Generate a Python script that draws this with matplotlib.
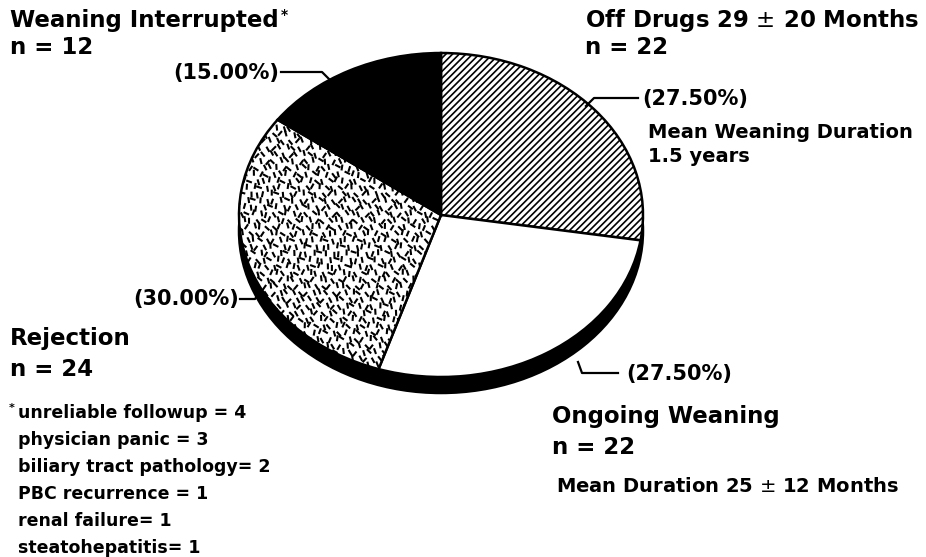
import numpy as np
import matplotlib
matplotlib.use("Agg")
import matplotlib.pyplot as plt
from matplotlib.patches import Ellipse
from matplotlib.collections import LineCollection

# data
groups = ["Off Drugs", "Ongoing Weaning", "Rejection", "Weaning Interrupted"]
counts = [22, 22, 24, 12]
pct_labels = ["(27.50%)", "(27.50%)", "(30.00%)", "(15.00%)"]
footnote = ["unreliable followup = 4", "physician panic = 3",
            "biliary tract pathology= 2", "PBC recurrence = 1",
            "renal failure= 1", "steatohepatitis= 1"]

plt.rcParams["hatch.linewidth"] = 1.2

W, H = 926, 557
fig = plt.figure(figsize=(W / 100, H / 100), dpi=100)
ax = fig.add_axes([0, 0, 1, 1])

# pie geometry in pixels (top-left origin)
cx, cy = 441, 215
rx, ry = 202, 162
depth = 16
k = rx / ry  # stretch so a circle of radius rx looks like an ellipse


def P(x, y):
    # pixel -> data
    return x, (H - y) * k


center = P(cx, cy)
# side of the disc
side = Ellipse(P(cx, cy + depth), 2 * rx, 2 * rx, facecolor="black",
               edgecolor="black", lw=1.8, zorder=1)
ax.add_patch(side)

wedges, _ = ax.pie(counts, startangle=90, counterclock=False, center=center,
                   radius=rx, colors=["white", "white", "white", "black"],
                   wedgeprops=dict(edgecolor="black", linewidth=1.8),
                   frame=True)
for w in wedges:
    w.set_zorder(2)
wedges[0].set_hatch("/////")

# speckle texture for the rejection slice
step = 6.6
xs = np.arange(cx - rx - 5, cx + 15, step)
ys = np.arange(cy - 120, cy + ry + 10, step)
segs = []
for j, yy in enumerate(ys):
    for i, xx in enumerate(xs):
        x0 = xx + (step / 2 if j % 2 else 0) + 1.5 * np.sin(i * 2.3 + j)
        y0 = yy + 1.5 * np.cos(i * 1.3 + j * 3.1)
        ang = np.deg2rad(75 + 60 * np.sin(i * 1.9 + j * 2.7) * np.cos(i * 0.7 - j * 1.3))
        dx, dy = 3.0 * np.cos(ang), 3.0 * np.sin(ang)
        segs.append([P(x0 - dx, y0 - dy), P(x0 + dx, y0 + dy)])
lc = LineCollection(segs, colors="black", linewidths=1.5, zorder=3)
ax.add_collection(lc)
lc.set_clip_path(wedges[2])

ax.set_aspect("auto")
ax.set_xlim(0, W)
ax.set_ylim(0, H * k)
ax.axis("off")

# leader lines
leaders = [
    [(281, 72), (322, 72), (333, 83)],
    [(638, 98), (594, 98), (586, 106)],
    [(240, 299), (255, 299), (261, 290)],
    [(618, 373), (582, 373), (578, 362)],
]
for pts in leaders:
    xy = [P(px, py) for px, py in pts]
    ax.plot([p[0] for p in xy], [p[1] for p in xy], color="black", lw=1.6,
            zorder=4)

font = "DejaVu Sans"
big = 16.5
pct = 15
mid = 14
small = 12.5


def t(x, y, s, size=big, ha="left", weight="bold", **kw):
    return fig.text(x / W, 1 - y / H, s, fontsize=size, ha=ha, va="center",
                    family=font, weight=weight, **kw)


wi = t(10, 21, "Weaning Interrupted")
t(10, 48, "n = %d" % counts[3])
t(585, 21, "Off Drugs 29 $\\pm$ 20 Months")
t(585, 48, "n = %d" % counts[0])
t(279, 73, pct_labels[3], size=pct, ha="right")
t(642, 99, pct_labels[0], size=pct)
t(648, 133, "Mean Weaning Duration", size=mid)
t(648, 156, "1.5 years", size=mid)
t(239, 299, pct_labels[2], size=pct, ha="right")
t(10, 339, "Rejection")
t(10, 369, "n = %d" % counts[2])
t(626, 374, pct_labels[1], size=pct)
t(552, 417, "Ongoing Weaning")
t(552, 447, "n = %d" % counts[1])
t(556, 487, "Mean Duration 25 $\\pm$ 12 Months", size=mid)

# superscript asterisk right after the title
fig.canvas.draw()
bb = wi.get_window_extent()
t(bb.x1 + 2, 15, "*", size=10)

t(9, 408, "*", size=8)
for i, line in enumerate(footnote):
    t(18, 413 + 27 * i, line, size=small)

fig.savefig("out.png", dpi=100)
